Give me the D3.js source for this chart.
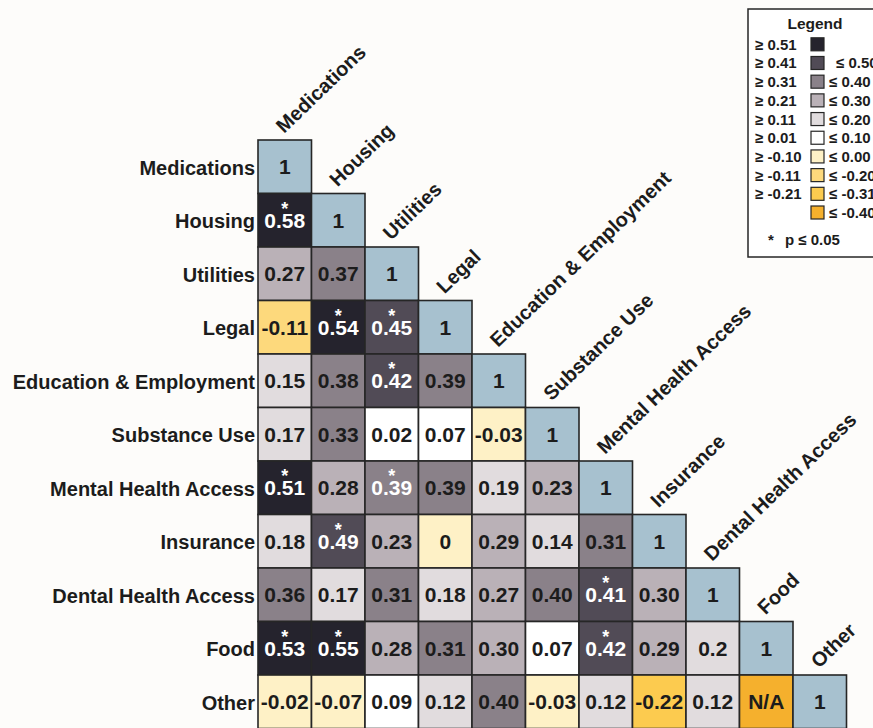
<!DOCTYPE html>
<html><head><meta charset="utf-8">
<script src="https://cdn.jsdelivr.net/npm/d3@7"></script>
<style>
html,body{margin:0;padding:0;background:#fdfcfa;}
svg{display:block;}
text{font-family:"Liberation Sans",Arial,sans-serif;font-weight:bold;}
</style></head>
<body>
<svg id="chart" width="873" height="728"></svg>
<script>
const categories = ["Medications","Housing","Utilities","Legal","Education & Employment","Substance Use","Mental Health Access","Insurance","Dental Health Access","Food","Other"];
// lower-triangle values, row by row (last entry of each row is the diagonal)
const values = [
  ["1"],
  ["0.58","1"],
  ["0.27","0.37","1"],
  ["-0.11","0.54","0.45","1"],
  ["0.15","0.38","0.42","0.39","1"],
  ["0.17","0.33","0.02","0.07","-0.03","1"],
  ["0.51","0.28","0.39","0.39","0.19","0.23","1"],
  ["0.18","0.49","0.23","0","0.29","0.14","0.31","1"],
  ["0.36","0.17","0.31","0.18","0.27","0.40","0.41","0.30","1"],
  ["0.53","0.55","0.28","0.31","0.30","0.07","0.42","0.29","0.2","1"],
  ["-0.02","-0.07","0.09","0.12","0.40","-0.03","0.12","-0.22","0.12","N/A","1"]
];
// significant (p <= 0.05) cells as [row, col]
const significant = [[1,0],[3,1],[3,2],[4,2],[6,0],[6,2],[7,1],[8,6],[9,0],[9,1],[9,6]];
const binThresholds = [-0.205, -0.105, 0.005, 0.105, 0.205, 0.305, 0.405, 0.505];
const binColors = ["#fccb4f","#fdd97c","#fef1c6","#ffffff","#e1dcde","#bab1b7","#8a8189","#514b56","#25232d"];
const naColor = "#f5b02d";
const diagColor = "#a7c1cf";
const legendLeft = ["≥ 0.51","≥ 0.41","≥ 0.31","≥ 0.21","≥ 0.11","≥ 0.01","≥ -0.10","≥ -0.11","≥ -0.21",""];
const legendRight = ["","≤ 0.50","≤ 0.40","≤ 0.30","≤ 0.20","≤ 0.10","≤ 0.00","≤ -0.20","≤ -0.31","≤ -0.40"];
const legendColors = ["#25232d","#514b56","#8a8189","#bab1b7","#e1dcde","#ffffff","#fef1c6","#fdd97c","#fccb4f","#f5b02d"];

const svg = d3.select("#chart");
const cell = 53.5;
const x = d3.scaleBand().domain(categories).range([258, 258 + cell*categories.length]).padding(0);
const y = d3.scaleBand().domain(categories).range([140, 140 + cell*categories.length]).padding(0);
const color = d3.scaleThreshold().domain(binThresholds).range(binColors);
const sigSet = new Set(significant.map(d => d[0] + "-" + d[1]));

const cells = [];
values.forEach((row, i) => row.forEach((v, j) => cells.push({i, j, v, diag: i === j, sig: sigSet.has(i + "-" + j)})));

function fill(d){
  if (d.diag) return diagColor;
  if (d.v === "N/A") return naColor;
  return color(+d.v);
}

const g = svg.append("g");
const cg = g.selectAll("g.cell").data(cells).join("g").attr("class","cell")
  .attr("transform", d => `translate(${x(categories[d.j])},${y(categories[d.i])})`);
cg.append("rect").attr("width", x.bandwidth()).attr("height", y.bandwidth())
  .attr("fill", fill).attr("stroke", "#262626").attr("stroke-width", 1.6);
const tx = cg.append("text").attr("text-anchor","middle")
  .attr("fill", d => d.sig ? "#ffffff" : "#1c1c1c");
tx.filter(d => d.sig).append("tspan").attr("x", x.bandwidth()/2).attr("y", 21)
  .attr("font-size", 18).text("*");
tx.append("tspan").attr("x", x.bandwidth()/2).attr("y", y.bandwidth()/2 + 7.5)
  .attr("font-size", 21).text(d => d.v);

// row labels
g.selectAll("text.rowlab").data(categories).join("text").attr("class","rowlab")
  .attr("x", 255).attr("y", d => y(d) + y.bandwidth()/2 + 8)
  .attr("text-anchor","end").attr("font-size", 20).attr("fill","#1c1c1c").text(d => d);

// column labels
g.selectAll("text.collab").data(categories).join("text").attr("class","collab")
  .attr("transform", d => `translate(${x(d) + 26},${y(d) - 6}) rotate(-44)`)
  .attr("text-anchor","start").attr("font-size", 20).attr("fill","#1c1c1c").text(d => d);

// legend
const lg = svg.append("g");
lg.append("rect").attr("x", 748).attr("y", 9).attr("width", 160).attr("height", 248)
  .attr("fill", "#ffffff").attr("stroke", "#262626").attr("stroke-width", 1.5);
lg.append("text").attr("x", 815).attr("y", 29).attr("text-anchor","middle").attr("font-size", 15.5).attr("fill","#1c1c1c").text("Legend");
const ly = d3.scaleLinear().domain([0, 9]).range([44.3, 212.5]);
legendColors.forEach((c, k) => {
  const cy = ly(k);
  lg.append("text").attr("x", 755).attr("y", cy + 5.5).attr("font-size", 15).attr("fill","#1c1c1c").text(legendLeft[k]);
  lg.append("rect").attr("x", 811).attr("y", cy - 6.5).attr("width", 13).attr("height", 13)
    .attr("fill", c).attr("stroke", "#262626").attr("stroke-width", 1.2);
  lg.append("text").attr("x", k === 1 ? 836 : 829).attr("y", cy + 5.5).attr("font-size", 15).attr("fill","#1c1c1c").text(legendRight[k]);
});
const foot = lg.append("text").attr("y", 245).attr("font-size", 15).attr("fill","#1c1c1c");
foot.append("tspan").attr("x", 768).text("*");
foot.append("tspan").attr("x", 785).text("p ≤ 0.05");
</script>
</body></html>
